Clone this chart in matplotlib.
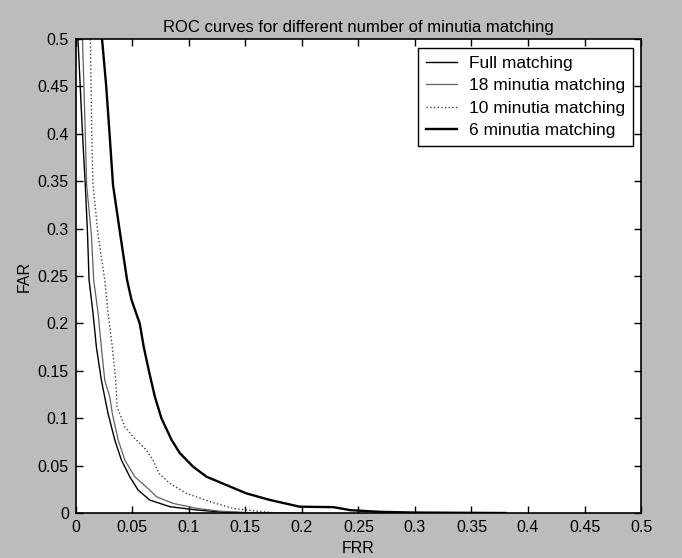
import matplotlib.pyplot as plt

plt.rcParams['font.family'] = ['Liberation Sans', 'DejaVu Sans']

# FRR / FAR points
full_frr = [0.002, 0.004, 0.006, 0.0085, 0.0105, 0.0118, 0.0153, 0.0183, 0.0227, 0.0286,
            0.0345, 0.0404, 0.0478, 0.0552, 0.0655, 0.0832, 0.107, 0.13, 0.16]
full_far = [0.5, 0.45, 0.40, 0.346, 0.293, 0.246, 0.211, 0.175, 0.140, 0.105,
            0.0773, 0.0559, 0.0383, 0.0242, 0.0137, 0.0067, 0.0032, 0.001, 0.0]

m18_frr = [0.006, 0.008, 0.0097, 0.0139, 0.0159, 0.0198, 0.0227, 0.0257, 0.0301, 0.0324,
           0.0375, 0.0434, 0.0522, 0.0655, 0.0714, 0.086, 0.107, 0.127, 0.15, 0.2]
m18_far = [0.5, 0.42, 0.346, 0.293, 0.246, 0.211, 0.175, 0.140, 0.1227, 0.105,
           0.0773, 0.0559, 0.0383, 0.0242, 0.0172, 0.0102, 0.0049, 0.002, 0.0005, 0.0]

m10_frr = [0.013, 0.0142, 0.0153, 0.0198, 0.0257, 0.0286, 0.0324, 0.0354, 0.0366, 0.0434,
           0.0507, 0.0625, 0.0684, 0.0737, 0.0832, 0.098, 0.1186, 0.139, 0.16, 0.18]
m10_far = [0.5, 0.40, 0.346, 0.293, 0.246, 0.211, 0.175, 0.140, 0.112, 0.091,
           0.0805, 0.0664, 0.0559, 0.0418, 0.0313, 0.0207, 0.012, 0.0049, 0.002, 0.0]

m6_frr = [0.0233, 0.027, 0.030, 0.033, 0.0395, 0.0454, 0.0493, 0.0566, 0.0602, 0.0649,
          0.070, 0.0758, 0.0847, 0.092, 0.1038, 0.1157, 0.1333, 0.151, 0.172, 0.198,
          0.228, 0.243, 0.27, 0.30, 0.38]
m6_far = [0.5, 0.45, 0.399, 0.346, 0.293, 0.246, 0.225, 0.200, 0.175, 0.149,
          0.1227, 0.100, 0.0773, 0.0633, 0.0489, 0.0383, 0.0295, 0.0207, 0.0137, 0.0067,
          0.0062, 0.003, 0.0012, 0.0005, 0.0]

ticks = [0, 0.05, 0.1, 0.15, 0.2, 0.25, 0.3, 0.35, 0.4, 0.45, 0.5]
tick_labels = ['0', '0.05', '0.1', '0.15', '0.2', '0.25', '0.3', '0.35', '0.4', '0.45', '0.5']

fig = plt.figure(figsize=(6.82, 5.58), dpi=100, facecolor='#bcbcbc')
ax = fig.add_axes([0.111, 0.0806, 0.829, 0.8495])

ax.plot(full_frr, full_far, color='black', lw=1.0, label='Full matching')
ax.plot(m18_frr, m18_far, color='#606060', lw=0.9, label='18 minutia matching')
ax.plot(m10_frr, m10_far, color='#404040', lw=1.0, ls=':', label='10 minutia matching')
ax.plot(m6_frr, m6_far, color='black', lw=1.7, label='6 minutia matching')

ax.set_xlim(0, 0.5)
ax.set_ylim(0, 0.5)
ax.set_xticks(ticks)
ax.set_xticklabels(tick_labels)
ax.set_yticks(ticks)
ax.set_yticklabels(tick_labels)
ax.tick_params(direction='in', length=5, width=1, labelsize=11.5,
               top=True, right=True, pad=5)
for s in ax.spines.values():
    s.set_linewidth(1.2)

ax.set_title('ROC curves for different number of minutia matching', fontsize=12, pad=5)
ax.set_xlabel('FRR', fontsize=11.5, labelpad=4)
ax.set_ylabel('FAR', fontsize=11.5, labelpad=4)

leg = ax.legend(loc='upper right', bbox_to_anchor=(0.986, 0.981), borderaxespad=0,
                fontsize=12.5, fancybox=False, edgecolor='black', framealpha=1,
                handlelength=1.8, handletextpad=0.7, labelspacing=0.42, borderpad=0.45)
leg.get_frame().set_linewidth(1.0)

fig.savefig('out.png', dpi=100, facecolor=fig.get_facecolor())
